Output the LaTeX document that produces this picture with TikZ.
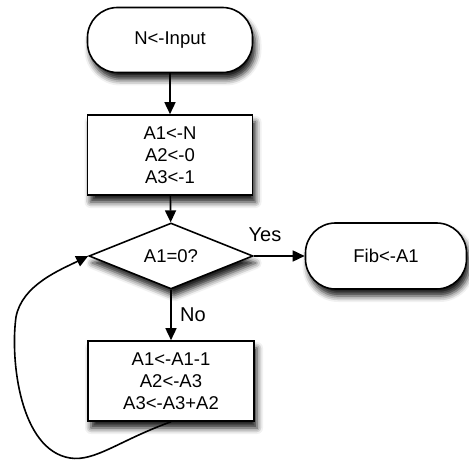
\documentclass[tikz,border=0pt]{standalone}
\usepackage{fontspec}
\setmainfont{Liberation Sans}
\usetikzlibrary{shapes.geometric,shapes.misc,arrows.meta,shadows.blur}

\tikzset{
  shade/.style={blur shadow={shadow xshift=3pt, shadow yshift=-7pt,
      shadow blur radius=6pt, shadow opacity=90}},
  base/.style={draw=black, line width=1.6pt, fill=white, shade,
      font=\fontsize{18.5}{22}\selectfont, align=center},
  terminal/.style={base, rectangle, rounded corners=30pt,
      minimum width=165pt, minimum height=65pt},
  process/.style={base, rectangle, minimum width=165pt, minimum height=80pt},
  decision/.style={base, diamond, aspect=2.5, inner sep=0pt,
      minimum width=164pt, minimum height=66pt},
  flow/.style={draw=black, line width=1.6pt,
      -{Triangle[length=12pt,width=11pt]}},
  lbl/.style={font=\fontsize{20}{22}\selectfont}
}

\begin{document}
\begin{tikzpicture}[x=1pt,y=1pt]
  \useasboundingbox (0,0) rectangle (469,-462);

  % nodes of the flowchart
  \node[terminal] (start) at (170,-40) {N<-Input};
  \node[process]  (init)  at (170,-155) {A1<-N\\A2<-0\\A3<-1};
  \node[decision] (test)  at (171,-256) {A1=0?};
  \node[terminal, minimum width=161pt, minimum height=66pt] (fib) at (386,-256) {Fib<-A1};
  \node[process, minimum width=166pt] (step2) at (171,-381) {A1<-A1-1\\A2<-A3\\A3<-A3+A2};

  % connectors
  \draw[flow] (start) -- (init);
  \draw[flow] (init) -- (test);
  \draw[flow] (test.east) -- (fib.west);
  \draw[flow] (test.south) -- (step2.north);
  \node[lbl] (yes) at (265,-235) {Yes};
  \node[lbl] (no)  at (193,-315) {No};

  % loop back to the test
  \draw[flow] (step2.south) .. controls (120,-440) and (95,-462) .. (70,-458)
     .. controls (20,-450) and (10,-360) .. (16,-317)
     .. controls (22,-285) and (60,-270) .. (test.west);
\end{tikzpicture}
\end{document}
